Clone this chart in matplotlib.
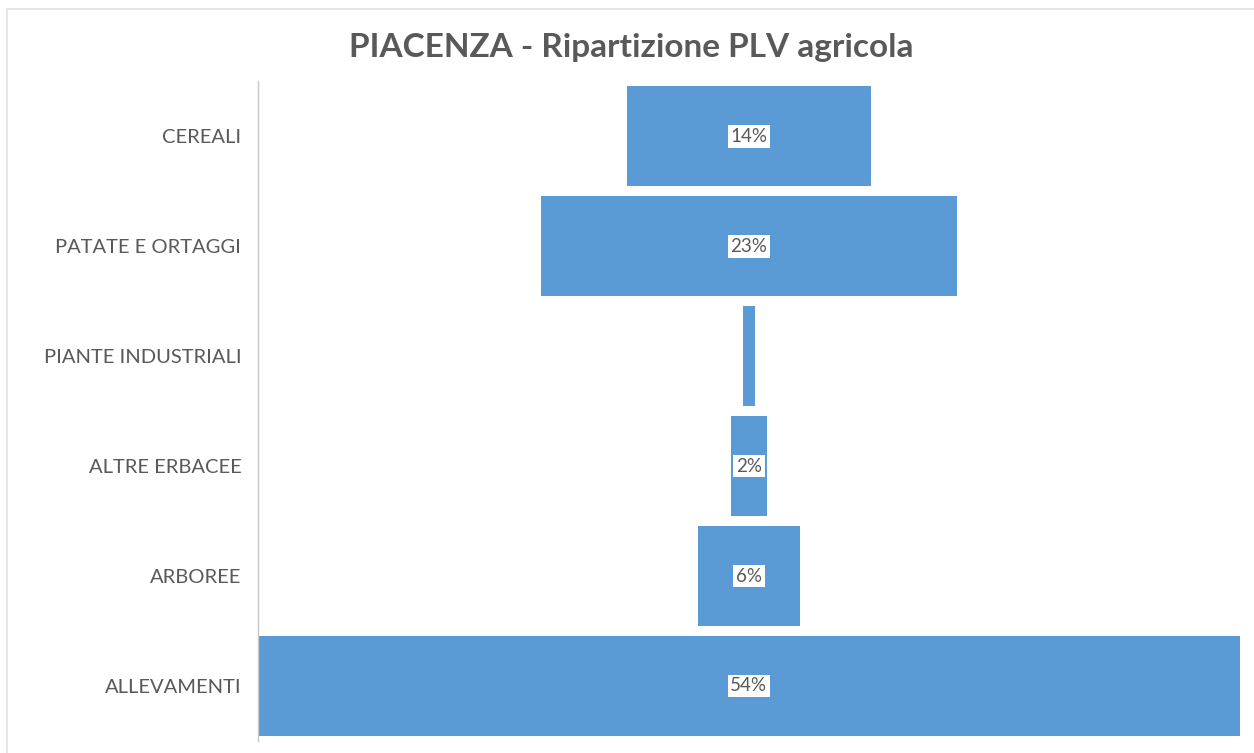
import matplotlib
matplotlib.use("Agg")
import matplotlib.pyplot as plt

categories = ["CEREALI", "PATATE E ORTAGGI", "PIANTE INDUSTRIALI",
              "ALTRE ERBACEE", "ARBOREE", "ALLEVAMENTI"]
shares = [13.4, 22.9, 0.7, 2.0, 5.6, 54.0]
labels = ["14%", "23%", "", "2%", "6%", "54%"]

BAR_COLOR = "#5B9BD5"
TEXT_COLOR = "#595959"
FONT = ["Lato", "DejaVu Sans"]


def main():
    fig = plt.figure(figsize=(12.54, 7.53), dpi=100)
    ax = fig.add_axes([0.2057, 0.016, 0.783, 0.876])

    total = max(shares)
    y = list(range(len(categories)))
    lefts = [(total - v) / 2 for v in shares]
    ax.barh(y, shares, left=lefts, height=0.91, color=BAR_COLOR)

    for yi, v, lab in zip(y, shares, labels):
        if lab:
            ax.text(total / 2, yi, lab, ha="center", va="center", fontsize=13.5,
                    color=TEXT_COLOR, family=FONT,
                    bbox=dict(boxstyle="square,pad=0.15", fc="white", ec="none"))

    ax.set_xlim(0, total)
    ax.set_ylim(len(categories) - 0.5, -0.5)
    ax.set_yticks(y)
    ax.set_yticklabels(categories, fontsize=14.5, color=TEXT_COLOR, family=FONT)
    ax.tick_params(axis="y", length=0, pad=12)
    ax.set_xticks([])
    for side in ["top", "right", "bottom"]:
        ax.spines[side].set_visible(False)
    ax.spines["left"].set_color("#C8C8C8")
    ax.spines["left"].set_linestyle((0, (2, 1)))
    ax.spines["left"].set_linewidth(1)

    fig.text(0.503, 0.937, "PIACENZA - Ripartizione PLV agricola", ha="center",
             va="center", fontsize=24, fontweight="bold", color=TEXT_COLOR, family=FONT)

    fig.add_artist(plt.Rectangle((7 / 1254, -0.05), 1.1, 1.05 - 9 / 753,
                                 transform=fig.transFigure,
                                 fill=False, ec="#E0E0E0", lw=1.2))

    fig.savefig("out.png", dpi=100)
    plt.close(fig)


if __name__ == "__main__":
    main()
